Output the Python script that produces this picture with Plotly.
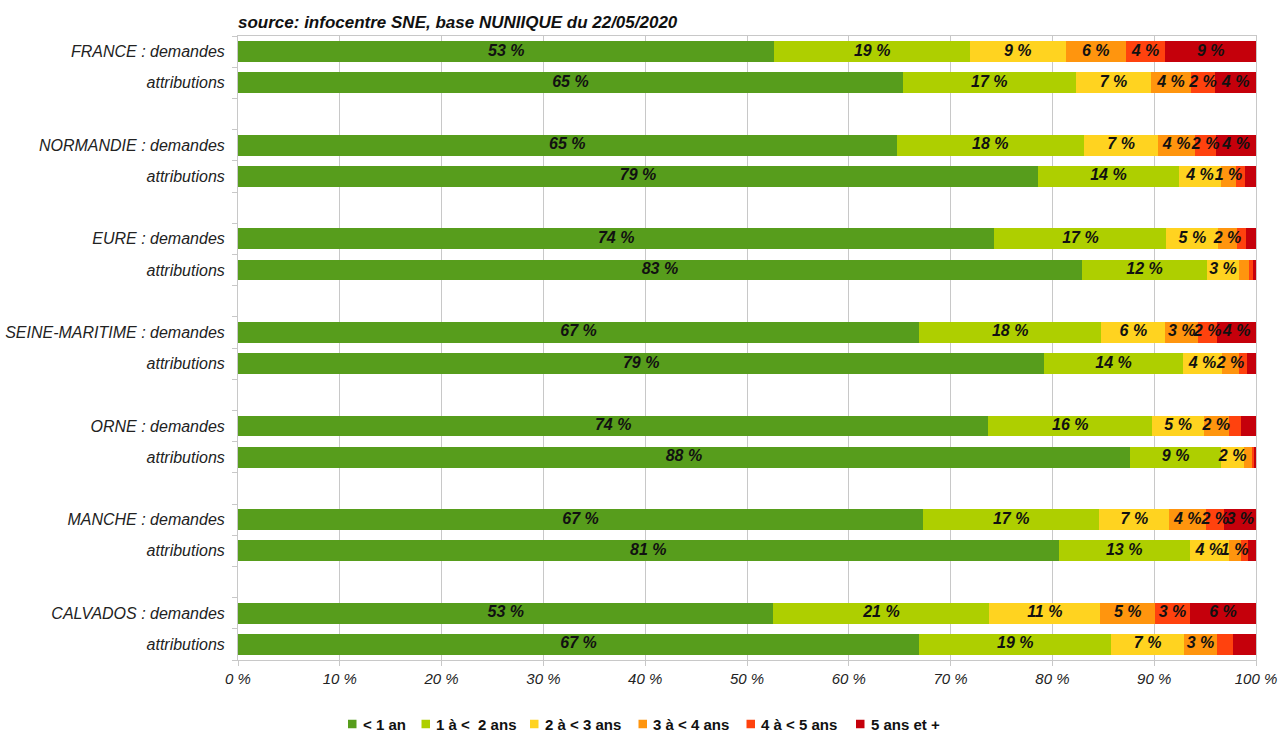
import plotly.graph_objects as go

# Row labels, top to bottom; empty strings are spacer rows between groups
rows = [
    "FRANCE : demandes", "attributions", "",
    "NORMANDIE : demandes", "attributions", "",
    "EURE : demandes", "attributions", "",
    "SEINE-MARITIME : demandes", "attributions", "",
    "ORNE : demandes", "attributions", "",
    "MANCHE : demandes", "attributions", "",
    "CALVADOS : demandes", "attributions",
]

# Share (%) of each seniority band, one value per bar row (spacers excluded)
lt_1an = [52.7, 65.3, 64.7, 78.6, 74.3, 82.9, 66.9, 79.2, 73.7, 87.6, 67.3, 80.6, 52.6, 66.9]
de_1_a_2 = [19.2, 17.0, 18.4, 13.8, 16.9, 12.3, 17.9, 13.6, 16.1, 9.0, 17.3, 12.9, 21.2, 18.9]
de_2_a_3 = [9.4, 7.4, 7.3, 4.2, 5.1, 3.1, 6.3, 3.9, 5.1, 2.2, 6.9, 3.8, 10.9, 7.1]
de_3_a_4 = [5.9, 3.9, 3.6, 1.4, 1.8, 1.0, 3.2, 1.6, 2.4, 0.9, 3.6, 1.2, 5.4, 3.3]
de_4_a_5 = [3.9, 2.4, 2.1, 0.9, 0.9, 0.4, 1.9, 0.8, 1.2, 0.1, 1.8, 0.7, 3.4, 1.5]
plus_5 = [8.9, 4.0, 3.9, 1.1, 1.0, 0.3, 3.8, 0.9, 1.5, 0.2, 3.1, 0.8, 6.5, 2.3]

series_names = ["&lt; 1 an", "1 à &lt;  2 ans", "2 à &lt; 3 ans", "3 à &lt; 4 ans", "4 à &lt; 5 ans", "5 ans et +"]
series_values = [lt_1an, de_1_a_2, de_2_a_3, de_3_a_4, de_4_a_5, plus_5]
colors = ["#579d1c", "#aecf00", "#ffd320", "#ff950e", "#ff420e", "#c5000b"]

# Data labels left out where they would collide with a neighbour (series index -> bar indices)
hidden_labels = {
    3: {5, 9},
    4: {3, 4, 5, 7, 8, 9, 11, 13},
    5: {3, 4, 5, 7, 8, 9, 11, 13},
}

FONT = "Liberation Sans, Arial, sans-serif"
W, H = 1280, 733
M_L, M_R, M_T, M_B = 238, 24, 36, 73
PLOT_W = W - M_L - M_R
PLOT_H = H - M_T - M_B

# Legend layout (page pixels): left edge of each colour key, centre line of the row
legend_key_x = [348, 421.5, 530, 638.5, 746.5, 856]
legend_y = 724
legend_key_size = 8.5
legend_text_gap = 5


def px_to_paper_x(px):
    return (px - M_L) / PLOT_W


def px_to_paper_y(py):
    return (H - M_B - py) / PLOT_H


bar_pos = [i for i, r in enumerate(rows) if r]
bar_labels = [r for r in rows if r]

fig = go.Figure()
for name, color, vals in zip(series_names, colors, series_values):
    fig.add_trace(go.Bar(
        y=bar_pos, x=vals, orientation="h", name=name,
        marker=dict(color=color, line=dict(width=0)),
        hoverinfo="skip", showlegend=False,
    ))

# Value labels, drawn above all bars at the centre of each segment
lx, ly, lt = [], [], []
cum = [0.0] * len(bar_pos)
for s, vals in enumerate(series_values):
    for i, v in enumerate(vals):
        if i not in hidden_labels.get(s, set()):
            lx.append(cum[i] + v / 2)
            ly.append(bar_pos[i])
            lt.append(f"{v:.0f} %")
        cum[i] += v
fig.add_trace(go.Scatter(
    x=lx, y=ly, text=lt, mode="text", showlegend=False, hoverinfo="skip",
    textposition="middle center",
    textfont=dict(family=FONT, size=16, color="#111111", weight="bold", style="italic"),
))

# Compact legend row under the axis
shapes, annotations = [], []
half = legend_key_size / 2
for kx, name, color in zip(legend_key_x, series_names, colors):
    shapes.append(dict(
        type="rect", xref="paper", yref="paper",
        x0=px_to_paper_x(kx), x1=px_to_paper_x(kx + legend_key_size),
        y0=px_to_paper_y(legend_y + half), y1=px_to_paper_y(legend_y - half),
        fillcolor=color, line=dict(width=0),
    ))
    annotations.append(dict(
        text=name, xref="paper", yref="paper",
        x=px_to_paper_x(kx + legend_key_size + legend_text_gap), y=px_to_paper_y(legend_y),
        xanchor="left", yanchor="middle", showarrow=False, borderpad=0,
        font=dict(family=FONT, size=15, color="#111111", weight="bold"),
    ))

fig.update_layout(
    width=W, height=H,
    margin=dict(l=M_L, r=M_R, t=M_T, b=M_B),
    paper_bgcolor="white", plot_bgcolor="white",
    barmode="stack", bargap=0.33,
    showlegend=False,
    shapes=shapes, annotations=annotations,
    title=dict(
        text="source: infocentre SNE, base NUNIIQUE du 22/05/2020",
        font=dict(family=FONT, size=17, color="#111111", weight="bold", style="italic"),
        x=0, xref="paper", xanchor="left",
        y=1 - 22 / H, yref="container", yanchor="middle",
    ),
    xaxis=dict(
        range=[0, 100], dtick=10, ticksuffix=" %",
        showgrid=True, gridcolor="#c8c8c8", gridwidth=1,
        showline=True, linecolor="#c8c8c8", mirror=True,
        ticks="outside", ticklen=5, tickcolor="#c8c8c8",
        tickfont=dict(family=FONT, size=15, color="#222222", style="italic"),
        zeroline=False, fixedrange=True, automargin=False,
    ),
    yaxis=dict(
        range=[len(rows) - 0.5, -0.5],
        tickvals=bar_pos, ticktext=bar_labels,
        ticks="", ticklen=0, ticklabelstandoff=9,
        tickfont=dict(family=FONT, size=16, color="#222222", style="italic"),
        showgrid=False, zeroline=False,
        showline=True, linecolor="#c8c8c8", mirror=True,
        minor=dict(ticks="outside", tick0=-0.5, dtick=1, ticklen=5,
                   tickcolor="#c8c8c8", showgrid=False),
        fixedrange=True, automargin=False,
    ),
)

fig.write_html("out.html")
